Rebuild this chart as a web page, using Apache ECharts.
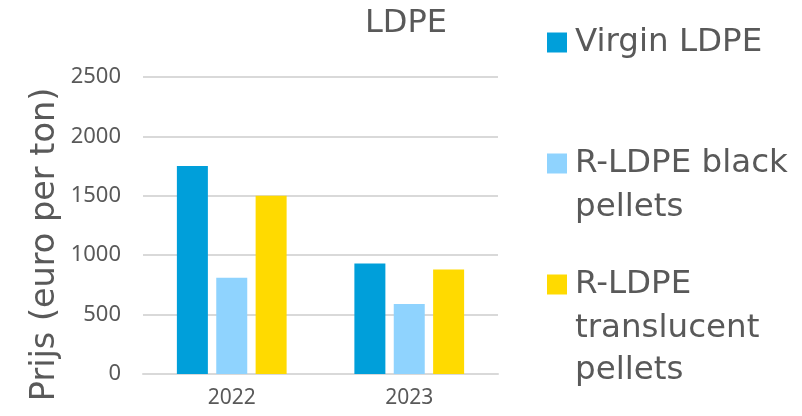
<!DOCTYPE html>
<html>
<head>
<meta charset="utf-8">
<script src="https://cdn.jsdelivr.net/npm/echarts@6/dist/echarts.min.js"></script>
<style>
  html, body { margin: 0; padding: 0; background: #fff; }
  #chart { width: 802px; height: 416px; }
</style>
</head>
<body>
<div id="chart"></div>
<script type="text/javascript">
    // data
    var years = ['2022', '2023'];
    var virgin = [1750, 930];
    var blackPellets = [810, 590];
    var translucentPellets = [1500, 880];
    var seriesNames = ['Virgin LDPE', 'R-LDPE black pellets', 'R-LDPE translucent pellets'];
    var yTicks = [0, 500, 1000, 1500, 2000, 2500];

    var textColor = '#595959';
    var gridColor = '#d9d9d9';
    var legendFont = 'DejaVu Sans';

    var chart = echarts.init(document.getElementById('chart'));

    function legendAt(name, first, top) {
        return {
            data: [name],
            left: 547,
            top: top,
            orient: 'vertical',
            icon: 'rect',
            itemWidth: 20,
            itemHeight: 20,
            selectedMode: false,
            padding: 0,
            formatter: function () { return first; },
            textStyle: {
                color: textColor,
                fontFamily: legendFont,
                fontSize: 32.5,
                lineHeight: 43,
                padding: [0, 0, 0, 3]
            }
        };
    }

    var option = {
        animation: false,
        title: {
            text: 'LDPE',
            left: 401,
            textAlign: 'center',
            top: 3,
            textStyle: {
                color: textColor,
                fontFamily: legendFont,
                fontSize: 32,
                fontWeight: 'normal'
            }
        },
        legend: [
            legendAt(seriesNames[0], 'Virgin LDPE', 21),
            legendAt(seriesNames[1], 'R-LDPE black', 142),
            legendAt(seriesNames[2], 'R-LDPE', 263)
        ],
        graphic: [
            {
                type: 'text', left: 575, top: 186,
                style: { text: 'pellets', fill: textColor, font: '32.5px "DejaVu Sans"', lineHeight: 43 }
            },
            {
                type: 'text', left: 575, top: 308,
                style: { text: 'translucent\npellets', fill: textColor, font: '32.5px "DejaVu Sans"', lineHeight: 42 }
            }
        ],
        grid: {
            left: 143,
            right: 304,
            top: 77,
            bottom: 42
        },
        xAxis: {
            type: 'category',
            data: years,
            axisTick: { show: false },
            axisLine: { lineStyle: { color: gridColor, width: 2 } },
            axisLabel: {
                color: textColor,
                fontFamily: 'Noto Sans',
                fontSize: 21,
                margin: 14
            }
        },
        yAxis: {
            type: 'value',
            min: yTicks[0],
            max: yTicks[yTicks.length - 1],
            interval: 500,
            name: 'Prijs (euro per ton)',
            nameLocation: 'middle',
            nameGap: 81,
            nameTextStyle: {
                color: textColor,
                fontFamily: legendFont,
                fontSize: 33.5,
                padding: [0, 38, 0, 0]
            },
            axisLine: { show: false },
            axisTick: { show: false },
            splitLine: { lineStyle: { color: gridColor, width: 2 } },
            axisLabel: {
                color: textColor,
                fontFamily: 'Noto Sans',
                fontSize: 22,
                margin: 22,
                formatter: function (v) { return String(v); }
            }
        },
        series: [
            {
                name: seriesNames[0],
                type: 'bar',
                data: virgin,
                barWidth: 31,
                barGap: '27%',
                itemStyle: { color: '#009fda' }
            },
            {
                name: seriesNames[1],
                type: 'bar',
                data: blackPellets,
                barWidth: 31,
                barGap: '27%',
                itemStyle: { color: '#8fd3fe' }
            },
            {
                name: seriesNames[2],
                type: 'bar',
                data: translucentPellets,
                barWidth: 31,
                barGap: '27%',
                itemStyle: { color: '#ffda00' }
            }
        ]
    };

    chart.setOption(option);
</script>
</body>
</html>
